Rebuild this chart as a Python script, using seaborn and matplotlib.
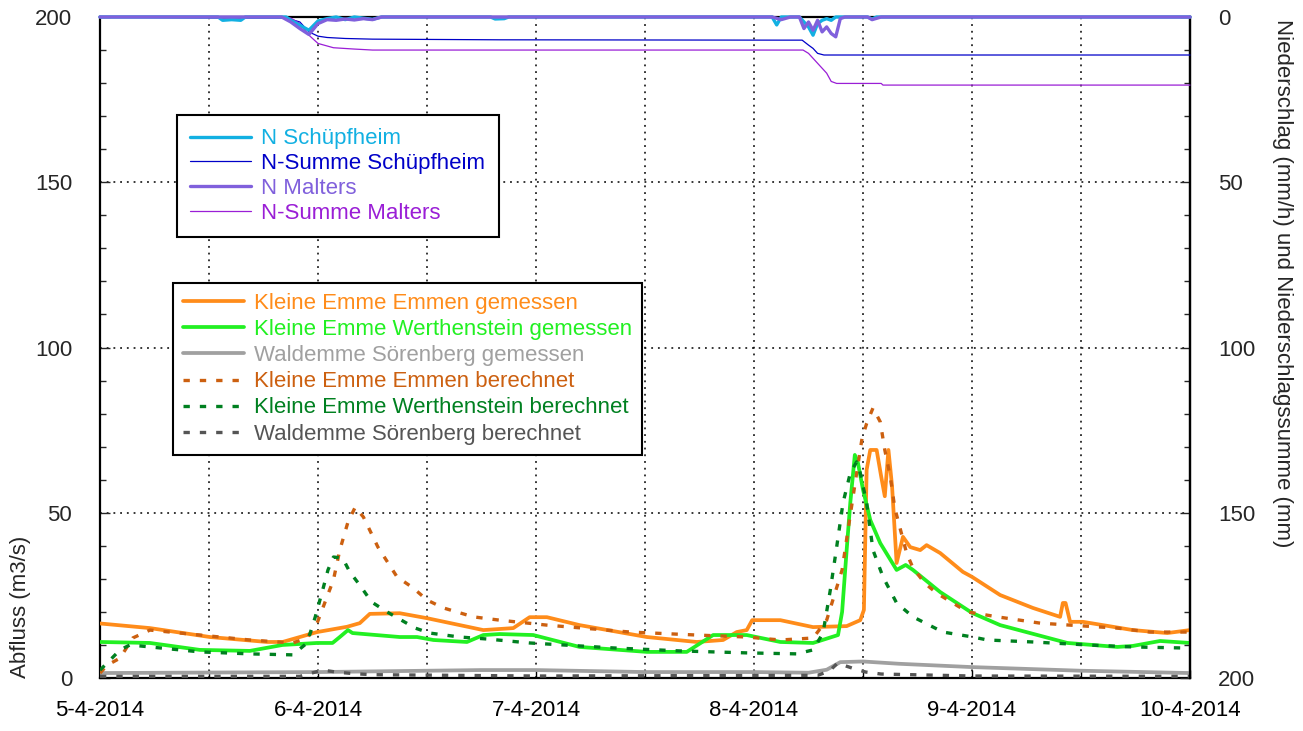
import matplotlib
matplotlib.use("Agg")
import matplotlib.pyplot as plt
from matplotlib.lines import Line2D
from matplotlib.ticker import MultipleLocator
import seaborn as sns

# ---------------------------------------------------------------
# Time axis: hours since 5-4-2014 00:00
# ---------------------------------------------------------------
day_ticks = [0, 24, 48, 72, 96, 120]
day_labels = ["5-4-2014", "6-4-2014", "7-4-2014", "8-4-2014", "9-4-2014", "10-4-2014"]

# ---------------------------------------------------------------
# Discharge (m3/s)
# ---------------------------------------------------------------
emmen_obs_h = [0, 5.5, 12.1, 18.4, 20.1, 23.9, 27.2, 28.6, 29.7, 33, 36, 42.2, 45.5, 47.3,
               49.2, 52.8, 60.2, 65.7, 68.6, 70.1, 71.2, 71.8, 74.9, 78.5, 82.2, 83.7, 84.1,
               84.4, 84.8, 85.5, 86.0, 86.4, 86.8, 87.2, 87.7, 88.4, 89.2, 90.3, 91.0, 92.5,
               95, 96, 99.1, 102.7, 105.7, 106.0, 106.3, 106.8, 108.2, 113.7, 117.5, 120]
emmen_obs_q = [16.5, 15.1, 12.4, 10.9, 10.9, 13.9, 15.5, 16.6, 19.4, 19.6, 18.1, 14.5, 15.1, 18.4,
               18.4, 16.0, 12.4, 10.9, 11.5, 13.9, 14.5, 17.5, 17.5, 15.4, 15.7, 17.5, 20.6,
               63, 69, 69, 61, 55, 69, 58, 34.8, 42.7, 39.6, 38.7, 40.2, 37.8,
               32.1, 30.6, 25.1, 21.2, 18.5, 22.7, 22.7, 17, 17, 14.5, 13.6, 14.5]

werth_obs_h = [0, 5.5, 11, 16.5, 20.1, 23.9, 25.6, 26.4, 27.3, 27.8, 33, 34.9, 36.7, 40.4,
               42.2, 44, 47.7, 52.8, 60.2, 64.6, 67.5, 71.2, 74.9, 78.5, 81.25, 81.7, 82.2,
               82.6, 83.1, 83.45, 84.0, 84.8, 85.9, 87.7, 88.7, 89.5, 92.5, 96, 99.1, 106.5,
               112, 113.7, 116.7, 120]
werth_obs_q = [10.9, 10.6, 8.5, 8.2, 10.0, 10.6, 10.6, 12.4, 14.5, 13.6, 12.4, 12.4, 11.5, 10.9,
               13.0, 13.3, 13.0, 9.4, 7.9, 7.9, 13.0, 13.0, 10.9, 10.6, 13.0, 20.0, 38.7,
               53.0, 67.5, 65.0, 57.0, 47.8, 40.8, 32.7, 34.2, 32.7, 26.0, 19.7, 16.0, 10.6,
               9.4, 9.7, 11.2, 10.6]

soer_obs_h = [0, 24, 36, 42, 48, 60, 72, 78, 80, 81.5, 84, 88, 96, 108, 120]
soer_obs_q = [1.5, 1.8, 2.2, 2.4, 2.4, 1.8, 1.8, 1.6, 2.5, 4.8, 5.0, 4.3, 3.3, 2.2, 1.5]

emmen_sim_h = [0, 0.8, 2.2, 3.6, 5.5, 11, 16.5, 21.2, 22.8, 23.9, 25.7, 26.4, 27.3, 28.1, 29,
               30.6, 32.7, 34.5, 36, 37.8, 41.1, 44, 49.2, 58.4, 65.7, 71.2, 74.9, 78.5, 80,
               81.7, 82.4, 83.3, 83.9, 84.4, 85.1, 85.9, 86.4, 87, 87.5, 88.8, 89.5, 90.8,
               92.1, 95.5, 98.8, 103.5, 106.8, 112, 115.6, 120]
emmen_sim_q = [1.5, 3.9, 6.0, 12.1, 14.5, 13.0, 11.5, 10.6, 12.1, 16.6, 29.7, 38.7, 47.2, 51.7, 48.7,
               39.6, 30.6, 27.2, 23.6, 21.2, 18.5, 17.5, 16.0, 13.9, 13.0, 12.4, 11.5, 12.1, 17.5,
               32.7, 45.7, 62.0, 72.6, 77.0, 81.7, 77.5, 69.0, 61.0, 51.4, 37.8, 33.3, 28.7,
               25.7, 20.0, 18.5, 16.6, 16.0, 15.1, 13.9, 13.9]

werth_sim_h = [0, 1.1, 2.2, 3.3, 5.5, 11, 16.5, 21.2, 22.8, 23.7, 24.6, 25.1, 25.7, 26.7, 27.5,
               28.6, 29.9, 31.6, 34.7, 36.3, 39.6, 42.6, 47.3, 56.5, 63.8, 71.2, 76.7, 78.5,
               79.6, 80.4, 81.1, 81.8, 82.6, 83.3, 83.7, 84.4, 85.1, 86.2, 87.7, 89.5, 92.8,
               96.1, 97.7, 102.7, 108.7, 113.7, 118.9, 120]
werth_sim_q = [2.4, 5.4, 8.5, 10.0, 9.4, 7.9, 7.3, 7.0, 10.6, 18.5, 27.5, 32.7, 36.6, 36.3, 32.1,
               28.1, 23.0, 20.0, 15.1, 13.6, 12.4, 11.8, 10.6, 9.1, 8.2, 7.6, 7.3, 8.5,
               13.6, 26.6, 39.6, 53.0, 62.0, 65.4, 62.0, 53.0, 38.7, 30.6, 22.7, 18.5, 13.9,
               12.4, 11.5, 10.9, 10.0, 9.4, 9.1, 9.0]

soer_sim_h = [0, 22, 24.5, 26, 28, 30, 48, 79, 80.3, 81.2, 82.8, 84.3, 86, 96, 120]
soer_sim_q = [0.5, 0.5, 2.4, 1.8, 1.3, 1.0, 0.6, 0.8, 2.1, 4.5, 3.0, 1.8, 1.2, 0.6, 0.5]

# ---------------------------------------------------------------
# Precipitation (mm/h) and cumulative precipitation (mm)
# ---------------------------------------------------------------
n_schuepf_h = [0, 13, 13.5, 14.5, 15.5, 16, 20.5, 21, 22, 23, 24, 25, 26, 27, 28, 30, 31, 43,
               43.5, 44.5, 45, 74, 74.5, 75, 77, 77.5, 78, 78.5, 79, 79.5, 80, 80.5, 81, 84.5,
               85, 85.5, 120]
n_schuepf_v = [0, 0, 1.0, 0.8, 1.0, 0, 0, 1.0, 2.5, 4.0, 1.2, 0.5, 0, 0.8, 0, 0.7, 0, 0,
               0.6, 0.5, 0, 0, 2.4, 0, 0, 1.5, 3.0, 5.5, 2.0, 1.0, 0.5, 1.0, 0, 0,
               0.6, 0, 0]

n_malters_h = [0, 20, 21, 22, 23, 24, 25, 26, 27, 28, 29, 30, 31, 74, 75, 76, 77, 77.5, 78,
               78.5, 79, 79.5, 80, 80.5, 81, 81.5, 82, 84.5, 85, 85.5, 86, 120]
n_malters_v = [0, 0, 1.5, 3.5, 5.3, 2.0, 0.8, 1.0, 0.6, 0.9, 0.5, 0.8, 0, 0, 0.8, 0, 0, 3.5, 1.5,
               4.0, 1.0, 4.5, 3.0, 5.0, 6.0, 0.5, 0, 0, 0.8, 0.4, 0, 0]

sum_schuepf_h = [0, 13, 20.5, 22, 23, 24, 25, 27, 30, 44, 74.5, 77.3, 78, 78.5, 79, 79.7, 120]
sum_schuepf_v = [0, 0.3, 0.3, 1.5, 4.5, 5.8, 6.2, 6.5, 6.7, 6.9, 7.0, 7.0, 8.5, 9.5, 11.0, 11.5, 11.5]

sum_malters_h = [0, 21, 22, 23, 24, 25.7, 28, 30, 77.4, 78, 79, 80, 80.5, 81.1, 86, 86.2, 120]
sum_malters_v = [0, 0.3, 2.0, 5.5, 8.0, 9.3, 9.7, 10.0, 10.0, 11.0, 14.0, 17.0, 19.5, 20.1, 20.1, 20.6, 20.6]

# ---------------------------------------------------------------
# Labels and colours
# ---------------------------------------------------------------
q_labels = ["Kleine Emme Emmen gemessen", "Kleine Emme Werthenstein gemessen",
            "Waldemme Sörenberg gemessen", "Kleine Emme Emmen berechnet",
            "Kleine Emme Werthenstein berechnet", "Waldemme Sörenberg berechnet"]
q_colors = ["#ff8c1a", "#22f022", "#a0a0a0", "#cc6010", "#008020", "#555555"]

p_labels = ["N Schüpfheim", "N-Summe Schüpfheim", "N Malters", "N-Summe Malters"]
p_colors = ["#12b0e2", "#0000c8", "#8060dc", "#9a1ed6"]

FS = 16
sns.set_style("white")
plt.rcParams["font.family"] = ["Liberation Sans", "DejaVu Sans"]
plt.rcParams["axes.unicode_minus"] = False

fig = plt.figure(figsize=(13.03, 7.31), dpi=100)
ax = fig.add_axes([100 / 1303, 53 / 731, 1090 / 1303, 661 / 731])

LW_THICK = 2.7
LW_DOT = 2.4
DOTS = (0, (1.9, 3.0))

q_series = [
    (emmen_obs_h, emmen_obs_q, "-", LW_THICK),
    (werth_obs_h, werth_obs_q, "-", LW_THICK),
    (soer_obs_h, soer_obs_q, "-", LW_THICK),
    (emmen_sim_h, emmen_sim_q, DOTS, LW_DOT),
    (werth_sim_h, werth_sim_q, DOTS, LW_DOT),
    (soer_sim_h, soer_sim_q, DOTS, LW_DOT),
]
draw_order = [2, 5, 3, 4, 0, 1]
for i in draw_order:
    h, q, ls, lw = q_series[i]
    sns.lineplot(x=h, y=q, ax=ax, color=q_colors[i], linewidth=lw, linestyle=ls,
                 legend=False, sort=False, estimator=None, zorder=3 + i * 0.01)

ax.set_xlim(0, 120)
ax.set_ylim(0, 200)
ax.set_xticks(day_ticks)
ax.set_xticklabels(day_labels)
ax.xaxis.set_minor_locator(MultipleLocator(12))
ax.set_yticks([0, 50, 100, 150, 200])
ax.yaxis.set_minor_locator(MultipleLocator(10))
ax.set_xlabel("")
ax.set_ylabel("")

grid_style = dict(color="black", linewidth=1.1, linestyle=(0, (1.2, 3.2)))
ax.grid(True, which="both", axis="x", **grid_style)
ax.grid(True, which="major", axis="y", **grid_style)
ax.set_axisbelow(True)

for side in ["left", "right", "top", "bottom"]:
    ax.spines[side].set_visible(True)
    ax.spines[side].set_color("black")
    ax.spines[side].set_linewidth(1.6)

ax.tick_params(axis="x", which="both", direction="in", length=6, width=1.0,
               bottom=True, top=False, labelsize=FS, pad=16, colors="black")
ax.tick_params(axis="y", which="major", direction="in", length=7, width=1.0,
               left=True, right=False, labelsize=FS, pad=20)
ax.tick_params(axis="y", which="minor", direction="in", length=4, width=1.0,
               left=True, right=False)

# Precipitation on a reversed secondary axis
ax2 = ax.twinx()
p_series = [
    (n_schuepf_h, n_schuepf_v, 2.4),
    (sum_schuepf_h, sum_schuepf_v, 0.9),
    (n_malters_h, n_malters_v, 2.4),
    (sum_malters_h, sum_malters_v, 0.9),
]
for i in [1, 3, 0, 2]:
    h, v, lw = p_series[i]
    sns.lineplot(x=h, y=v, ax=ax2, color=p_colors[i], linewidth=lw, legend=False,
                 sort=False, estimator=None, clip_on=False, zorder=4)
ax2.set_ylim(200, 0)
ax2.set_xlim(0, 120)
ax2.set_yticks([0, 50, 100, 150, 200])
ax2.yaxis.set_minor_locator(MultipleLocator(10))
ax2.set_ylabel("")
ax2.grid(False)
for side in ["left", "top", "bottom"]:
    ax2.spines[side].set_visible(False)
ax2.spines["right"].set_linewidth(1.6)
ax2.spines["right"].set_color("black")
ax2.tick_params(axis="y", which="major", direction="in", length=7, width=1.0,
                right=True, left=False, labelsize=FS, pad=20)
ax2.tick_params(axis="y", which="minor", direction="in", length=4, width=1.0,
                right=True, left=False)

# Axis titles
fig.text(21 / 1303, 53 / 731, "Abfluss (m3/s)", rotation=90, ha="center", va="bottom",
         fontsize=FS)
fig.text(1283 / 1303, 1 - 19 / 731, "Niederschlag (mm/h) und Niederschlagssumme (mm)",
         rotation=270, ha="center", va="top", fontsize=FS)

# Legends
leg_kw = dict(fontsize=FS, frameon=True, fancybox=False, framealpha=1, borderaxespad=0,
              handlelength=2.75, handletextpad=0.45)

p_handles = [Line2D([], [], color=p_colors[i], linewidth=p_series[i][2]) for i in range(4)]
leg1 = ax2.legend(p_handles, p_labels, loc="upper left", labelspacing=0.17, borderpad=0.6,
                  bbox_to_anchor=(77 / 1090, (678 - 115) / 661), **leg_kw)
q_handles = [Line2D([], [], color=q_colors[i], linewidth=q_series[i][3],
                    linestyle=q_series[i][2]) for i in range(6)]
ax2.add_artist(leg1)
leg2 = ax2.legend(q_handles, q_labels, loc="upper left", labelspacing=0.23, borderpad=0.45,
                  bbox_to_anchor=(73 / 1090, (678 - 283) / 661), **leg_kw)
for leg, cols in [(leg1, p_colors), (leg2, q_colors)]:
    leg.get_frame().set_edgecolor("black")
    leg.get_frame().set_linewidth(1.5)
    for t, c in zip(leg.get_texts(), cols):
        t.set_color(c)
    leg.set_zorder(10)

fig.savefig("out.png", dpi=100)
